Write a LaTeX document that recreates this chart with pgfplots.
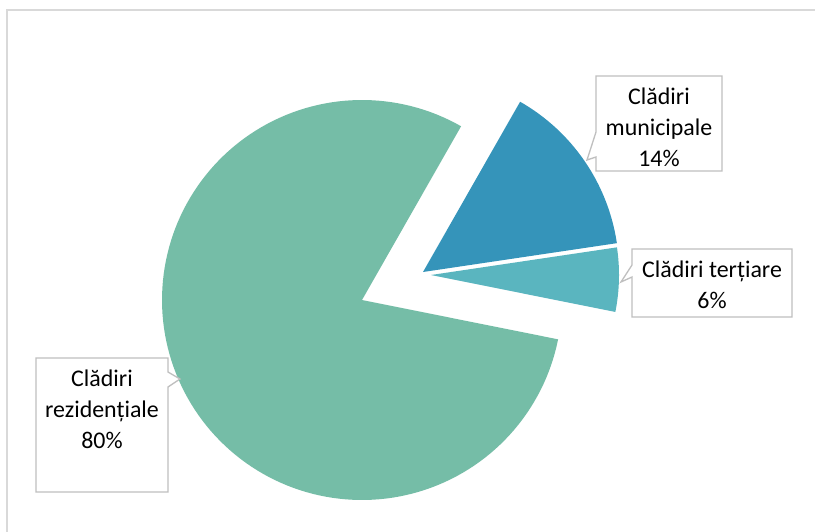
\documentclass[border=0pt]{standalone}
\usepackage{pgfplots}
\pgfplotsset{compat=1.18}
\usepackage{fontspec}
\setmainfont{Carlito}
\definecolor{resid}{HTML}{75BDA7}
\definecolor{munic}{HTML}{3594BA}
\definecolor{tert}{HTML}{5AB5BF}
\definecolor{boxgray}{HTML}{BFBFBF}
\definecolor{framegray}{HTML}{D9D9D9}
% data (shares, %)
\def\vMun{14.4}
\def\vTer{5.5}
\def\vRes{80.1}
\def\startAng{29.7}
\pgfmathsetmacro{\aA}{\startAng}
\pgfmathsetmacro{\aB}{\aA+3.6*\vMun}
\pgfmathsetmacro{\aC}{\aB+3.6*\vTer}
\pgfmathsetmacro{\aD}{\aC+3.6*\vRes}
\begin{document}
\begin{tikzpicture}
\begin{axis}[
  scale only axis, width=815bp, height=532bp,
  xmin=0, xmax=815, ymin=0, ymax=532, y dir=reverse,
  hide axis, clip=true,
]
\fill[white] (axis cs:0,0) rectangle (axis cs:815,532);
\draw[framegray, line width=1.4bp] (axis cs:7,532) -- (axis cs:7,10) -- (axis cs:815,10);
% slices
\addplot[fill=resid, draw=none, domain=\aC:\aD, samples=150] ({362+200*sin(x)},{300-200*cos(x)}) -- (axis cs:362,300) -- cycle;
\addplot[fill=munic, draw=none, domain=\aA:\aB, samples=60] ({423+196*sin(x)},{272-196*cos(x)}) -- (axis cs:423,272) -- cycle;
\addplot[fill=tert, draw=none, domain=\aB:\aC, samples=40] ({431+188*sin(x)},{275-188*cos(x)}) -- (axis cs:431,275) -- cycle;
% callouts
\draw[boxgray, fill=white, line width=1.3bp] (axis cs:596,76) -- (axis cs:722,76) -- (axis cs:722,171) -- (axis cs:596,171) -- (axis cs:596,157) -- (axis cs:587,160) -- (axis cs:596,132) -- cycle;
\node[align=center, font=\fontsize{24}{31}\selectfont] at (axis cs:659,127) {Clădiri\\municipale\\14\%};
\draw[boxgray, fill=white, line width=1.3bp] (axis cs:632,249) -- (axis cs:792,249) -- (axis cs:792,317) -- (axis cs:632,317) -- (axis cs:632,277) -- (axis cs:621,282) -- (axis cs:632,265) -- cycle;
\node[align=center, font=\fontsize{24}{31}\selectfont] at (axis cs:712,285) {Clădiri terțiare\\6\%};
\draw[boxgray, fill=white, line width=1.3bp] (axis cs:36,358) -- (axis cs:168,358) -- (axis cs:168,372) -- (axis cs:180,379) -- (axis cs:168,387) -- (axis cs:168,492) -- (axis cs:36,492) -- cycle;
\node[align=center, font=\fontsize{24}{31}\selectfont] at (axis cs:102,409) {Clădiri\\rezidențiale\\80\%};
\end{axis}
\end{tikzpicture}
\end{document}
